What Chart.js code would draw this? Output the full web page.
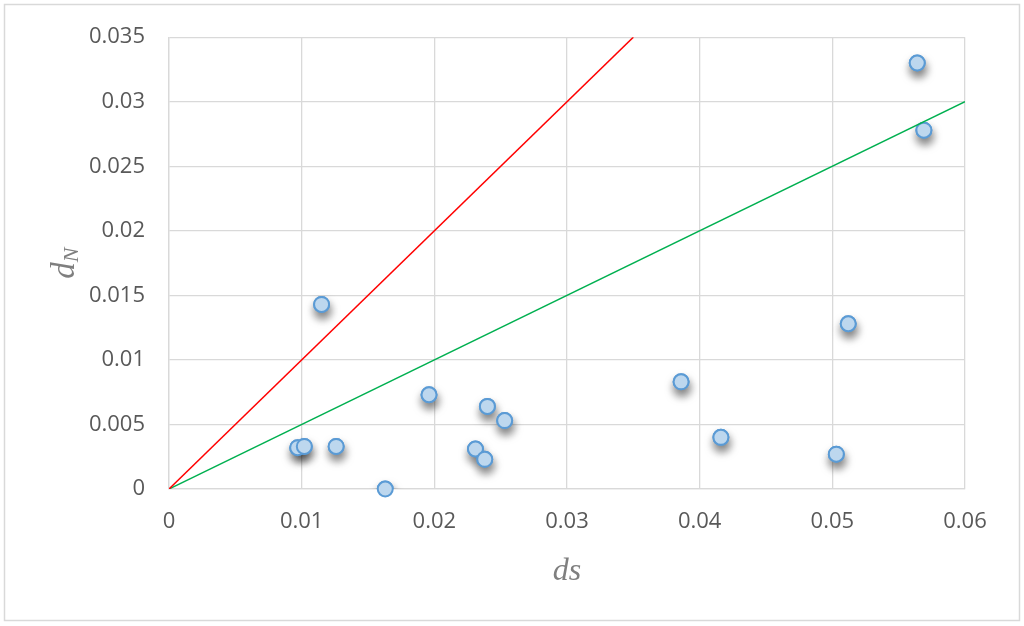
<!DOCTYPE html>
<html>
<head>
<meta charset="utf-8">
<script src="https://cdn.jsdelivr.net/npm/chart.js@4/dist/chart.umd.min.js"></script>
<style>
  html, body { margin: 0; padding: 0; background: #fff; }
  #wrap { width: 1024px; height: 626px; }
</style>
</head>
<body>
<div id="wrap"><canvas id="scatterChart"></canvas></div>
<script>
// data
const dsValues = [0.0097, 0.0102, 0.0115, 0.0126, 0.0163, 0.0196, 0.0231, 0.0238, 0.0240, 0.0253, 0.0386, 0.0416, 0.0503, 0.0512, 0.0564, 0.0569];
const dnValues = [0.0032, 0.0033, 0.0143, 0.0033, 0.0000, 0.0073, 0.0031, 0.0023, 0.0064, 0.0053, 0.0083, 0.0040, 0.0027, 0.0128, 0.0330, 0.0278];
const redLineX = [0, 0.035];
const redLineY = [0, 0.035];
const greenLineX = [0, 0.06];
const greenLineY = [0, 0.03];
const xTickLabels = ['0', '0.01', '0.02', '0.03', '0.04', '0.05', '0.06'];
const yTickLabels = ['0', '0.005', '0.01', '0.015', '0.02', '0.025', '0.03', '0.035'];

const toPoints = (xs, ys) => xs.map((x, i) => ({ x: x, y: ys[i] }));

const tickFont = { family: 'Open Sans', size: 22 };

// frame, drop shadow on markers, axis titles
const decorPlugin = {
    id: 'decor',
    beforeDraw(chart) {
        const ctx = chart.ctx;
        ctx.save();
        ctx.strokeStyle = '#d9d9d9';
        ctx.lineWidth = 1.5;
        ctx.strokeRect(4.5, 4.5, 1015, 616);
        ctx.restore();
    },
    beforeDatasetDraw(chart, args) {
        if (args.index !== 0) return;
        const ctx = chart.ctx;
        ctx.save();
        ctx.shadowColor = 'rgba(0, 0, 0, 0.5)';
        ctx.shadowBlur = 8;
        ctx.shadowOffsetX = 1;
        ctx.shadowOffsetY = 6;
    },
    afterDatasetDraw(chart, args) {
        if (args.index !== 0) return;
        const ctx = chart.ctx;
        ctx.restore();
        // second pass without shadow so the marker fill stays clean
        chart.getDatasetMeta(0).data.forEach(p => p.draw(ctx, chart.chartArea));
    },
    afterDraw(chart) {
        const ctx = chart.ctx;
        const area = chart.chartArea;
        ctx.save();
        ctx.fillStyle = '#7f7f7f';
        ctx.textBaseline = 'alphabetic';
        // x title
        ctx.font = 'italic 32px "Liberation Serif"';
        ctx.textAlign = 'center';
        ctx.fillText('ds', (area.left + area.right) / 2, 580);
        // y title, d with subscript N
        ctx.translate(74, (area.top + area.bottom) / 2);
        ctx.rotate(-Math.PI / 2);
        ctx.textAlign = 'left';
        ctx.font = 'italic 33px "Liberation Serif"';
        const dW = ctx.measureText('d').width;
        ctx.font = 'italic 22px "Liberation Serif"';
        const nW = ctx.measureText('N').width;
        const startX = -(dW + nW) / 2;
        ctx.font = 'italic 33px "Liberation Serif"';
        ctx.fillText('d', startX, 0);
        ctx.font = 'italic 22px "Liberation Serif"';
        ctx.fillText('N', startX + dW, 4);
        ctx.restore();
    }
};

new Chart(document.getElementById('scatterChart'), {
    type: 'scatter',
    data: {
        datasets: [
            {
                label: 'dN vs ds',
                data: toPoints(dsValues, dnValues),
                backgroundColor: '#bdd7ee',
                borderColor: '#5b9bd5',
                borderWidth: 2,
                pointRadius: 7.5,
                order: 2
            },
            {
                label: 'dN = ds',
                type: 'line',
                data: toPoints(redLineX, redLineY),
                borderColor: '#ff0000',
                borderWidth: 1.5,
                pointRadius: 0,
                fill: false,
                order: 1
            },
            {
                label: 'dN = ds / 2',
                type: 'line',
                data: toPoints(greenLineX, greenLineY),
                borderColor: '#00b050',
                borderWidth: 1.5,
                pointRadius: 0,
                fill: false,
                order: 1
            }
        ]
    },
    options: {
        responsive: true,
        maintainAspectRatio: false,
        animation: false,
        layout: { padding: { left: 0, top: 35, right: 59, bottom: 0 } },
        plugins: {
            legend: { display: false },
            tooltip: { enabled: false }
        },
        scales: {
            x: {
                type: 'linear',
                min: 0,
                max: 0.06,
                afterFit(scale) { scale.height = 137; },
                afterBuildTicks(scale) {
                    scale.ticks = xTickLabels.map((t, i) => ({ value: i * 0.01 }));
                },
                grid: { color: '#d9d9d9', lineWidth: 1.3, drawTicks: false },
                border: { color: '#d9d9d9', width: 1.3 },
                ticks: {
                    padding: 20,
                    color: '#595959',
                    font: tickFont,
                    maxRotation: 0,
                    callback: (v, i) => xTickLabels[i]
                }
            },
            y: {
                type: 'linear',
                min: 0,
                max: 0.035,
                afterFit(scale) { scale.width = 169; },
                afterBuildTicks(scale) {
                    scale.ticks = yTickLabels.map((t, i) => ({ value: i * 0.005 }));
                },
                grid: { color: '#d9d9d9', lineWidth: 1.3, drawTicks: false },
                border: { color: '#d9d9d9', width: 1.3 },
                ticks: {
                    padding: 24,
                    color: '#595959',
                    font: tickFont,
                    callback: (v, i) => yTickLabels[i]
                }
            }
        }
    },
    plugins: [decorPlugin]
});
</script>
</body>
</html>
